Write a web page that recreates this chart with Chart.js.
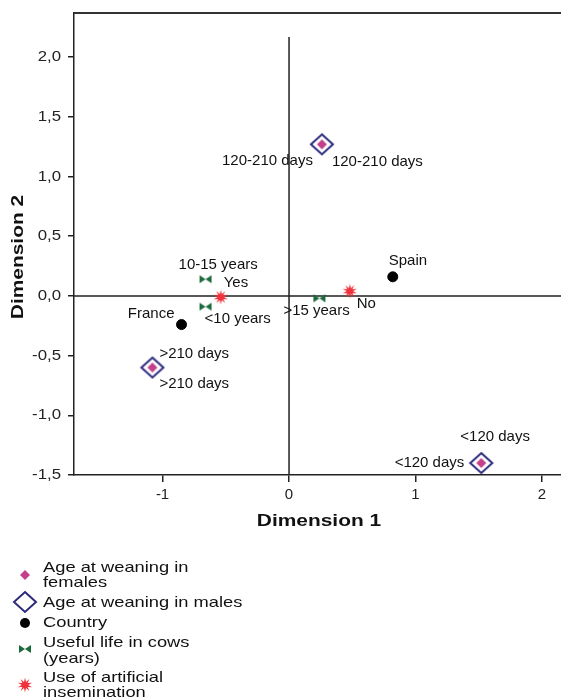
<!DOCTYPE html>
<html>
<head>
<meta charset="utf-8">
<script src="https://cdn.jsdelivr.net/npm/chart.js@4.4.1/dist/chart.umd.min.js"></script>
<style>
html, body { margin: 0; padding: 0; background: #fff; }
</style>
</head>
<body>
<canvas id="chart" width="561" height="699"></canvas>
<script>
// categories and coordinates
const weaningLabels = ['120-210 days', '>210 days', '<120 days'];
const femaleX = [0.26, -1.08, 1.52];
const femaleY = [1.27, -0.60, -1.40];
const maleX = [0.26, -1.08, 1.52];
const maleY = [1.27, -0.60, -1.40];

const countryLabels = ['Spain', 'France'];
const countryX = [0.82, -0.85];
const countryY = [0.16, -0.24];

const lifeLabels = ['10-15 years', '<10 years', '>15 years'];
const lifeX = [-0.66, -0.66, 0.24];
const lifeY = [0.14, -0.09, -0.02];

const aiLabels = ['Yes', 'No'];
const aiX = [-0.54, 0.48];
const aiY = [-0.01, 0.04];

const xTicks = [-1, 0, 1, 2];
const yTicks = [-1.5, -1.0, -0.5, 0.0, 0.5, 1.0, 1.5, 2.0];

const legendNames = [
    ['Age at weaning in', 'females'],
    ['Age at weaning in males'],
    ['Country'],
    ['Useful life in cows', '(years)'],
    ['Use of artificial', 'insemination']
];

// where each label sits around its point: [dx, dy, align]
const labelPlacement = {
    female: [[-9, 17, 'right'], [7, -14, 'left'], [-17, 0, 'right']],
    male: [[10, 18, 'left'], [7, 16, 'left'], [-21, -26, 'left']],
    country: [[-4, -16, 'left'], [-7, -11, 'right']],
    life: [[-27, -14, 'left'], [-1, 12, 'left'], [-36, 13, 'left']],
    ai: [[3, -14, 'left'], [7, 13, 'left']]
};

const PINK = '#c4408a';
const NAVY = '#2c2a7c';
const GREEN = '#1b6a3c';
const RED = '#f0323c';
const FONT = '"Liberation Sans", Arial, sans-serif';

function makeMarker(w, h, draw) {
    const c = document.createElement('canvas');
    c.width = w;
    c.height = h;
    draw(c.getContext('2d'), w, h);
    return c;
}

const femaleMark = makeMarker(12, 12, (g, w, h) => {
    g.fillStyle = PINK;
    g.beginPath();
    g.moveTo(w / 2, 1); g.lineTo(w - 1, h / 2); g.lineTo(w / 2, h - 1); g.lineTo(1, h / 2);
    g.closePath();
    g.fill();
});
const maleMark = makeMarker(26, 24, (g, w, h) => {
    g.strokeStyle = NAVY;
    g.lineWidth = 2;
    g.beginPath();
    g.moveTo(w / 2, 2); g.lineTo(w - 2, h / 2); g.lineTo(w / 2, h - 2); g.lineTo(2, h / 2);
    g.closePath();
    g.stroke();
});
const bowtieMark = makeMarker(14, 10, (g, w, h) => {
    g.fillStyle = GREEN;
    g.beginPath();
    g.moveTo(1, 1); g.lineTo(w / 2, h / 2); g.lineTo(1, h - 1); g.closePath();
    g.moveTo(w - 1, 1); g.lineTo(w / 2, h / 2); g.lineTo(w - 1, h - 1); g.closePath();
    g.fill();
});
const starMark = makeMarker(16, 16, (g, w, h) => {
    g.fillStyle = RED;
    g.beginPath();
    const n = 10;
    for (let i = 0; i < n * 2; i++) {
        const r = i % 2 === 0 ? 7.5 : 3.2;
        const a = -Math.PI / 2 + i * Math.PI / n;
        const px = w / 2 + r * Math.cos(a), py = h / 2 + r * Math.sin(a);
        if (i === 0) g.moveTo(px, py); else g.lineTo(px, py);
    }
    g.closePath();
    g.fill();
});

const toPoints = (xs, ys) => xs.map((x, i) => ({ x: x, y: ys[i] }));

function stretchText(ctx, text, x, y, align, sx) {
    ctx.save();
    ctx.translate(x, y);
    ctx.scale(sx, 1);
    ctx.textAlign = align;
    ctx.textBaseline = 'middle';
    ctx.fillText(text, 0, 0);
    ctx.restore();
}

const refLines = {
    id: 'refLines',
    beforeDatasetsDraw(chart) {
        const ctx = chart.ctx, a = chart.chartArea;
        const xs = chart.scales.x, ys = chart.scales.y;
        ctx.save();
        ctx.strokeStyle = '#222';
        ctx.lineWidth = 1.5;
        ctx.beginPath();
        const y0 = ys.getPixelForValue(0);
        ctx.moveTo(a.left, y0);
        ctx.lineTo(a.right, y0);
        const x0 = xs.getPixelForValue(0);
        ctx.moveTo(x0, ys.getPixelForValue(2.17));
        ctx.lineTo(x0, a.bottom);
        ctx.stroke();
        // top frame line
        ctx.strokeStyle = '#333';
        ctx.lineWidth = 2;
        ctx.beginPath();
        ctx.moveTo(a.left, a.top);
        ctx.lineTo(a.right, a.top);
        ctx.stroke();
        ctx.restore();
    }
};

const pointLabels = {
    id: 'pointLabels',
    afterDatasetsDraw(chart) {
        const ctx = chart.ctx;
        ctx.save();
        ctx.fillStyle = '#111';
        ctx.font = '15px ' + FONT;
        ctx.textBaseline = 'middle';
        chart.data.datasets.forEach((ds, di) => {
            const meta = chart.getDatasetMeta(di);
            const place = labelPlacement[ds.key];
            meta.data.forEach((pt, i) => {
                const p = place[i];
                ctx.textAlign = p[2];
                ctx.fillText(ds.names[i], pt.x + p[0], pt.y + p[1]);
            });
        });
        ctx.restore();
    }
};

const axisText = {
    id: 'axisText',
    afterDraw(chart) {
        const ctx = chart.ctx;
        const xs = chart.scales.x, ys = chart.scales.y;
        ctx.save();
        ctx.fillStyle = '#222';
        ctx.font = '15px ' + FONT;
        yTicks.forEach(v => {
            stretchText(ctx, v.toFixed(1).replace('.', ','), 61, ys.getPixelForValue(v), 'right', 1.12);
        });
        xTicks.forEach(v => {
            stretchText(ctx, String(v), xs.getPixelForValue(v), 495, 'center', 1.0);
        });

        ctx.fillStyle = '#111';
        ctx.font = 'bold 17px ' + FONT;
        stretchText(ctx, 'Dimension 1', 319, 521, 'center', 1.23);
        ctx.save();
        ctx.translate(18, 257);
        ctx.rotate(-Math.PI / 2);
        stretchText(ctx, 'Dimension 2', 0, 0, 'center', 1.23);
        ctx.restore();

        // legend
        const marks = [femaleMark, maleMark, null, bowtieMark, starMark];
        const markY = [575, 602, 623, 649, 685];
        const textY = [[568, 583], [603], [623], [643, 659], [678, 693]];
        ctx.font = '15px ' + FONT;
        ctx.fillStyle = '#111';
        legendNames.forEach((lines, i) => {
            if (marks[i]) {
                ctx.drawImage(marks[i], 25 - marks[i].width / 2, markY[i] - marks[i].height / 2);
            } else {
                ctx.beginPath();
                ctx.arc(25, markY[i], 5, 0, Math.PI * 2);
                ctx.fillStyle = '#000';
                ctx.fill();
                ctx.fillStyle = '#111';
            }
            lines.forEach((t, j) => stretchText(ctx, t, 43, textY[i][j], 'left', 1.22));
        });
        ctx.restore();
    }
};

new Chart(document.getElementById('chart'), {
    type: 'scatter',
    data: {
        datasets: [{
            key: 'female',
            names: weaningLabels,
            data: toPoints(femaleX, femaleY),
            pointStyle: femaleMark
        }, {
            key: 'male',
            names: weaningLabels,
            data: toPoints(maleX, maleY),
            pointStyle: maleMark
        }, {
            key: 'country',
            names: countryLabels,
            data: toPoints(countryX, countryY),
            pointStyle: 'circle',
            pointRadius: 5,
            backgroundColor: '#000',
            borderColor: '#000'
        }, {
            key: 'life',
            names: lifeLabels,
            data: toPoints(lifeX, lifeY),
            pointStyle: bowtieMark
        }, {
            key: 'ai',
            names: aiLabels,
            data: toPoints(aiX, aiY),
            pointStyle: starMark
        }]
    },
    options: {
        responsive: false,
        animation: false,
        layout: { autoPadding: false, padding: { left: 0, top: 13, right: 0, bottom: 0 } },
        plugins: {
            legend: { display: false },
            tooltip: { enabled: false }
        },
        scales: {
            x: {
                type: 'linear',
                min: -1.7,
                max: 2.15,
                border: { display: true, color: '#222', width: 1.5 },
                grid: { drawOnChartArea: false, drawTicks: true, tickLength: 7, color: '#222', lineWidth: 1.5 },
                ticks: { display: false },
                afterBuildTicks: s => { s.ticks = xTicks.map(v => ({ value: v })); },
                afterFit: s => { s.height = 224; }
            },
            y: {
                type: 'linear',
                min: -1.5,
                max: 2.37,
                border: { display: true, color: '#222', width: 1.5 },
                grid: { drawOnChartArea: false, drawTicks: true, tickLength: 6, color: '#222', lineWidth: 1.5 },
                ticks: { display: false },
                afterBuildTicks: s => { s.ticks = yTicks.map(v => ({ value: v })); },
                afterFit: s => { s.width = 74; }
            }
        }
    },
    plugins: [refLines, pointLabels, axisText]
});
</script>
</body>
</html>
